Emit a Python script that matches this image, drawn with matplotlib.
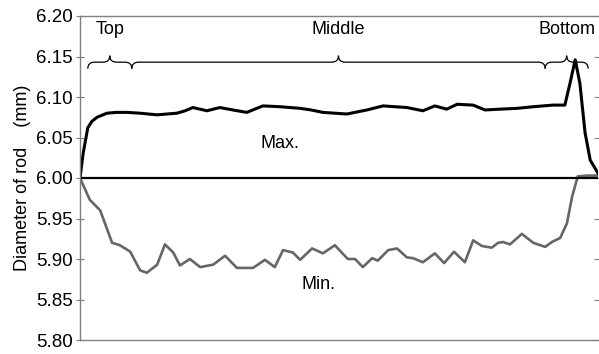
import matplotlib
matplotlib.use("Agg")
import matplotlib.pyplot as plt
import numpy as np
from matplotlib.path import Path
from matplotlib.patches import PathPatch

plt.rcParams['font.family'] = ['Liberation Sans', 'DejaVu Sans']

# position along the rod (% of length) and diameters (mm)
max_pos = [0, 0.6, 1.5, 2.3, 3.3, 5.2, 7.0, 9.1, 11.6, 13.2, 14.9, 16.8, 18.7, 20.3, 21.8,
           24.5, 27.0, 29.5, 32.2, 35.3, 38.6, 42.5, 44.6, 46.9, 49.2, 51.5, 55.4, 58.5,
           60.8, 63.1, 66.2, 68.5, 70.8, 72.8, 75.9, 78.2, 81.1, 84.4, 87.5, 91.3, 93.6,
           94.6, 95.6, 96.5, 97.5, 98.5, 100]
max_val = [6.000, 6.030, 6.062, 6.070, 6.075, 6.080, 6.081, 6.081, 6.080, 6.079, 6.078,
           6.079, 6.080, 6.083, 6.087, 6.083, 6.087, 6.084, 6.081, 6.089, 6.088, 6.086,
           6.084, 6.081, 6.080, 6.079, 6.084, 6.089, 6.088, 6.087, 6.083, 6.089, 6.085,
           6.091, 6.090, 6.084, 6.085, 6.086, 6.088, 6.090, 6.090, 6.117, 6.146, 6.117,
           6.056, 6.022, 6.006]

min_pos = [0, 1.9, 3.9, 6.2, 7.7, 9.7, 11.6, 12.9, 14.9, 16.4, 18.0, 19.3, 21.2, 23.2,
           25.7, 28.0, 30.3, 33.4, 35.7, 37.6, 39.2, 41.1, 42.5, 44.8, 46.9, 49.2, 51.7,
           53.1, 54.6, 56.4, 57.5, 59.5, 61.2, 63.1, 64.3, 66.2, 68.5, 70.3, 72.2, 74.3,
           75.9, 77.6, 79.5, 80.7, 81.7, 83.0, 85.3, 87.5, 89.8, 91.1, 92.7, 94.0, 95.0,
           96.1, 97.9, 100]
min_val = [6.000, 5.973, 5.960, 5.920, 5.917, 5.909, 5.886, 5.883, 5.893, 5.918, 5.908,
           5.892, 5.900, 5.890, 5.893, 5.904, 5.889, 5.889, 5.899, 5.890, 5.911, 5.908,
           5.899, 5.913, 5.907, 5.917, 5.900, 5.900, 5.890, 5.901, 5.898, 5.911, 5.913,
           5.902, 5.901, 5.896, 5.907, 5.895, 5.909, 5.896, 5.923, 5.916, 5.914, 5.920,
           5.921, 5.918, 5.931, 5.920, 5.915, 5.921, 5.926, 5.944, 5.977, 6.002, 6.003,
           6.003]

nominal = 6.00
section_names = ['Top', 'Middle', 'Bottom']
section_edges = [1.5, 10.0, 89.8, 98.1]
yticks = [5.80, 5.85, 5.90, 5.95, 6.00, 6.05, 6.10, 6.15, 6.20]

fig = plt.figure(figsize=(5.99, 3.54), dpi=100)
ax = fig.add_axes([80 / 599, 14 / 354, 518 / 599, 324 / 354])

ax.plot(min_pos, min_val, color='#666666', lw=1.9, solid_joinstyle='round')
ax.axhline(nominal, color='black', lw=1.6)
ax.plot(max_pos, max_val, color='black', lw=2.2, solid_joinstyle='round')


def brace(x0, x1, y, ax):
    xm = (x0 + x1) / 2
    rx = 1.3
    dy = 0.008
    verts = [(x0, y - dy), (x0, y), (x0 + rx, y),
             (xm - rx, y), (xm, y), (xm, y + dy),
             (xm, y), (xm + rx, y),
             (x1 - rx, y), (x1, y), (x1, y - dy)]
    codes = [Path.MOVETO, Path.CURVE3, Path.CURVE3,
             Path.LINETO, Path.CURVE3, Path.CURVE3,
             Path.CURVE3, Path.CURVE3,
             Path.LINETO, Path.CURVE3, Path.CURVE3]
    ax.add_patch(PathPatch(Path(verts, codes), fill=False, lw=0.9, color='black'))


for i, name in enumerate(section_names):
    x0, x1 = section_edges[i], section_edges[i + 1]
    brace(x0, x1, 6.143, ax)
    ax.text((x0 + x1) / 2, 6.183, name, ha='center', va='center', fontsize=13)

ax.text(38.6, 6.043, 'Max.', ha='center', va='center', fontsize=13)
ax.text(46.1, 5.869, 'Min.', ha='center', va='center', fontsize=13)

ax.set_xlim(0, 100)
ax.set_ylim(5.80, 6.20)
ax.set_yticks(yticks)
ax.set_yticklabels(['%.2f' % t for t in yticks])
ax.set_xticks([])
ax.set_ylabel('Diameter of rod    (mm)', fontsize=13, labelpad=4)

for s in ['top', 'left', 'bottom']:
    ax.spines[s].set_color('#808080')
    ax.spines[s].set_linewidth(1.0)
ax.spines['right'].set_visible(False)
ax.tick_params(axis='y', which='both', left=True, right=True, direction='out',
               length=5, color='#808080', labelsize=13.5, pad=2)
ax.tick_params(axis='y', which='both', right=True, direction='inout', length=6)

fig.savefig('out.png', dpi=100)
